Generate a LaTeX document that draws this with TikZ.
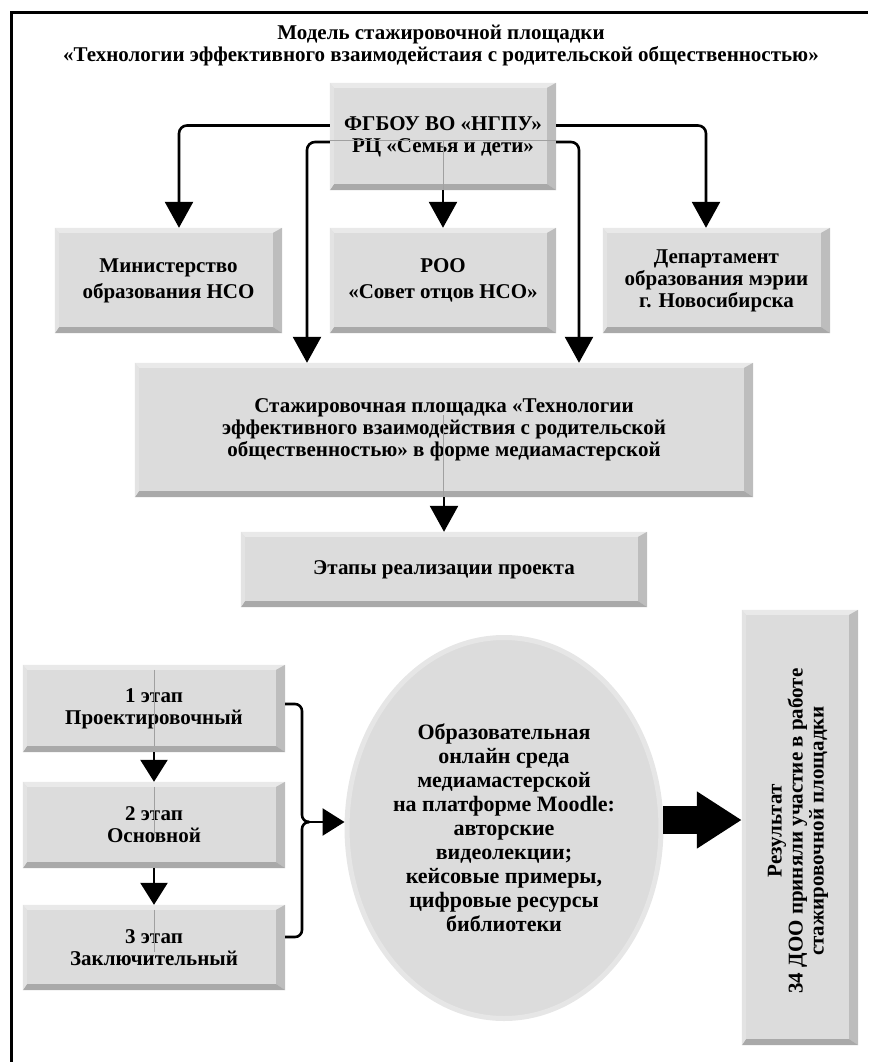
\documentclass[tikz,border=0pt]{standalone}
\usepackage{fontspec}
\setmainfont{Liberation Serif}
\usetikzlibrary{positioning}
\usetikzlibrary{shapes.geometric}
\usetikzlibrary{arrows.meta}

\definecolor{boxface}{HTML}{DCDCDC}
\definecolor{bevtop}{HTML}{E9E9E9}
\definecolor{bevleft}{HTML}{E3E3E3}
\definecolor{bevright}{HTML}{BDBDBD}
\definecolor{bevbot}{HTML}{A9A9A9}
\definecolor{ellrim}{HTML}{E6E6E6}
\definecolor{ghostgray}{HTML}{A0A0A0}

\tikzset{
  box/.style={fill=boxface, inner sep=0pt, align=center,
    font=\fontsize{21}{22}\selectfont\bfseries},
  wide lines/.style={font=\fontsize{21}{26}\selectfont\bfseries},
  link/.style={line width=2.6pt, rounded corners=8pt,
    -{Triangle[length=26pt,width=28pt]}},
  small link/.style={link, -{Triangle[length=22pt,width=27pt]}},
  ghost/.style={draw=ghostgray, line width=0.6pt}
}

% bevelled edges of a box
\newcommand{\bevel}[1]{%
  \fill[bevtop] (#1.north west) -- (#1.north east) -- ([shift={(-9,5)}]#1.north east) -- ([shift={(4,5)}]#1.north west) -- cycle;
  \fill[bevright] (#1.north east) -- (#1.south east) -- ([shift={(-9,-6)}]#1.south east) -- ([shift={(-9,5)}]#1.north east) -- cycle;
  \fill[bevbot] (#1.south east) -- (#1.south west) -- ([shift={(4,-6)}]#1.south west) -- ([shift={(-9,-6)}]#1.south east) -- cycle;
  \fill[bevleft] (#1.south west) -- (#1.north west) -- ([shift={(4,5)}]#1.north west) -- ([shift={(4,-6)}]#1.south west) -- cycle;
}

\begin{document}
\begin{tikzpicture}[x=1pt,y=-1pt]
\useasboundingbox (0,0) rectangle (868,1062);

\draw[line width=3pt] (11,1062) -- (11,13) -- (868,13);

\node[font=\fontsize{21}{22}\selectfont\bfseries, align=center] (title) at (441,46)
  {Модель стажировочной площадки\\
   «Технологии эффективного взаимодейстаия с родительской общественностью»};

% top level
\node[box, minimum width=226pt, minimum height=107pt] (uni) at (443,136.5)
  {ФГБОУ ВО «НГПУ»\\РЦ «Семья и дети»};
\bevel{uni}
\draw[ghost] ([yshift=-3.5pt]uni.west) -- ([yshift=-3.5pt]uni.east);
\draw[ghost] ([yshift=-3.5pt]uni.center) -- (uni.south);

\node[box, wide lines, minimum width=227pt, minimum height=105pt] (min) at (168.5,280.5)
  {Министерство\\образования НСО};
\bevel{min}
\node[box, wide lines, minimum width=226pt, minimum height=105pt] (roo) at (443,280.5)
  {РОО\\«Совет отцов НСО»};
\bevel{roo}
\node[box, minimum width=227pt, minimum height=105pt] (dep) at (716.5,280.5)
  {Департамент\\образования мэрии\\г. Новосибирска};
\bevel{dep}

\node[box, minimum width=618pt, minimum height=134pt] (plat) at (444,430)
  {Стажировочная площадка «Технологии\\
   эффективного взаимодействия с родительской\\
   общественностью» в форме медиамастерской};
\bevel{plat}
\draw[ghost] ([yshift=15pt]plat.center -| uni.south) -- (plat.south -| uni.south);

\node[box, minimum width=406pt, minimum height=75pt] (etapy) at (444,569.5)
  {Этапы реализации проекта};
\bevel{etapy}

% stages
\node[box, minimum width=262pt, minimum height=87pt] (st1) at (154,708.5)
  {1 этап\\Проектировочный};
\bevel{st1}
\node[box, minimum width=262pt, minimum height=86pt] (st2) at (154,825)
  {2 этап\\Основной};
\bevel{st2}
\node[box, minimum width=262pt, minimum height=85pt] (st3) at (154,947.5)
  {3 этап\\Заключительный};
\bevel{st3}
\draw[ghost] ([yshift=-5pt]st1.north) -- ([yshift=6pt]st1.south);
\draw[ghost] ([yshift=-5pt]st2.north) -- ([yshift=-12pt]st2.center);
\draw[ghost] ([yshift=-5pt]st3.north) -- ([yshift=-4pt]st3.center);

\node[ellipse, fill=boxface, draw=ellrim, line width=5pt, inner sep=0pt,
  minimum width=307pt, minimum height=381pt, align=center,
  font=\fontsize{22}{24}\selectfont\bfseries] (env) at (504,828)
  {Образовательная\\онлайн среда\\медиамастерской\\на платформе Moodle:\\
   авторские\\видеолекции;\\кейсовые примеры,\\цифровые ресурсы\\библиотеки};

\node[box, minimum width=116pt, minimum height=435pt] (res) at (800,827.5) {};
\bevel{res}
\node[rotate=90, align=center, font=\fontsize{21}{21}\selectfont\bfseries] (restext) at (798,831)
  {Результат\\34 ДОО приняли участие в работе\\стажировочной площадки};

% connectors
\draw[link] ([yshift=11pt]uni.west) -| (min.north -| 179,0);
\draw[link] ([yshift=-5.5pt]uni.west) -| (plat.north -| 307,0);
\draw[link] ([yshift=-5.5pt]uni.east) -| (plat.north -| 579,0);
\draw[link] ([yshift=11pt]uni.east) -| (dep.north -| 706,0);
\draw[link] (uni.south) -- (roo.north);
\draw[link] (plat.south) -- (etapy.north);
\draw[small link] (st1.south) -- (st2.north);
\draw[small link] (st2.south) -- (st3.north);

% brace towards the environment
\coordinate (cusp) at (306,822);
\draw[line width=2.6pt, rounded corners=7pt] ([yshift=4.5pt]st1.east) -- (302,704) -- (302,822) -- (cusp);
\draw[line width=2.6pt, rounded corners=7pt] ([yshift=10.5pt]st3.east) -- (302,937) -- (302,822) -- (cusp);
\draw[line width=2.6pt, -{Triangle[length=22pt,width=27pt]}] (cusp) -- (env.west |- cusp);

% thick arrow to the result
\draw[line width=28pt, -{Triangle[length=45pt,width=54pt]}] ([yshift=8pt]env.east) -- ([yshift=8pt]env.east -| res.west);
\end{tikzpicture}
\end{document}
